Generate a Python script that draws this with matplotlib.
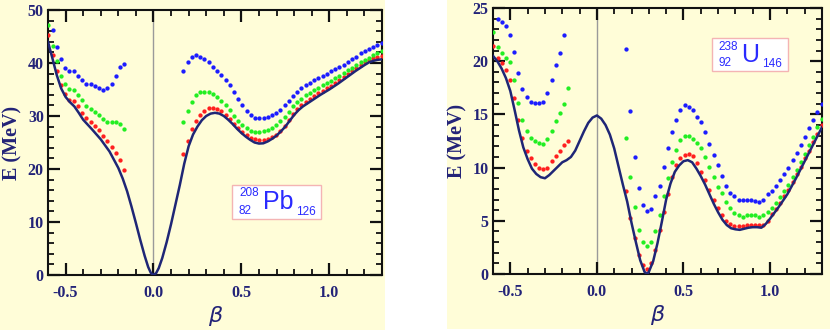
import matplotlib
matplotlib.use("Agg")
import matplotlib.pyplot as plt
from matplotlib.patches import Rectangle
from matplotlib.ticker import MultipleLocator
import numpy as np

plt.rcParams['axes.unicode_minus'] = False

# ---------------- data ----------------
# dot grid (beta)
beta_dots_left = [-0.598, -0.574, -0.550, -0.526, -0.502, -0.478, -0.454, -0.430, -0.406, -0.382,
                  -0.358, -0.334, -0.310, -0.286, -0.262, -0.238, -0.214, -0.190, -0.166]
beta_dots_right = [0.170, 0.194, 0.218, 0.242, 0.266, 0.290, 0.314, 0.338, 0.362, 0.386,
                   0.410, 0.434, 0.458, 0.482, 0.506, 0.530, 0.554, 0.578, 0.602, 0.626,
                   0.650, 0.674, 0.698, 0.722, 0.746, 0.770, 0.794, 0.818, 0.842, 0.866,
                   0.890, 0.914, 0.938, 0.962, 0.986, 1.010, 1.034, 1.058, 1.082, 1.106,
                   1.130, 1.154, 1.178, 1.202, 1.226, 1.250, 1.274, 1.298]

# Pb-208 solid curve
pb_line_beta = [-0.6, -0.575, -0.55, -0.525, -0.5, -0.475, -0.45, -0.425, -0.4, -0.375, -0.35, -0.3,
                -0.25, -0.2, -0.175, -0.15, -0.125, -0.1, -0.075, -0.05, -0.03, -0.015, 0.0, 0.015,
                0.03, 0.05, 0.075, 0.1, 0.125, 0.15, 0.175, 0.2, 0.225, 0.25, 0.275, 0.3, 0.325,
                0.35, 0.375, 0.4, 0.425, 0.45, 0.475, 0.5, 0.525, 0.55, 0.575, 0.6, 0.625, 0.65,
                0.675, 0.7, 0.725, 0.75, 0.775, 0.8, 0.825, 0.85, 0.9, 0.95, 1.0, 1.05, 1.1, 1.15,
                1.2, 1.225, 1.25, 1.275, 1.3]
pb_line_E = [44.0, 40.9, 37.7, 35.2, 33.6, 32.6, 31.8, 30.6, 29.3, 28.4, 27.5, 25.6,
             23.3, 20.2, 18.2, 15.8, 12.9, 9.8, 6.6, 3.6, 1.5, 0.4, 0.0, 0.35,
             1.3, 3.2, 6.2, 9.6, 13.3, 17.0, 21.0, 24.3, 26.5, 28.0, 29.2, 30.0, 30.45,
             30.6, 30.45, 30.0, 29.3, 28.5, 27.6, 26.8, 26.1, 25.5, 25.0, 24.8, 24.85, 25.2,
             25.7, 26.3, 27.1, 28.0, 29.1, 30.2, 31.1, 31.8, 32.9, 34.0, 35.0, 36.1, 37.3, 38.5,
             39.6, 40.1, 40.4, 40.6, 40.7]

pb_red_left = [45.2, 41.5, 38.4, 35.8, 34.2, 33.0, 32.8, 31.9, 30.5, 29.6, 28.8, 28.1, 27.4, 26.3,
               25.3, 24.2, 23.1, 21.7, 19.8]
pb_green_left = [47.2, 43.3, 40.3, 37.6, 36.0, 35.1, 35.0, 34.0, 33.0, 31.9, 31.4, 30.8, 30.2, 29.4,
                 28.9, 28.8, 28.8, 28.4, 27.5]
pb_blue_left = [np.nan, 46.2, 43.1, 40.7, 39.1, 38.5, 38.5, 37.6, 36.7, 36.0, 36.0, 35.7, 35.2, 34.9,
                35.2, 36.0, 37.6, 39.2, 39.9]

pb_red_right = [22.8, 25.3, 27.5, 29.1, 30.2, 31.0, 31.5, 31.6, 31.4, 30.9,
                30.2, 29.4, 28.5, 27.7, 27.0, 26.4, 25.9, 25.6, 25.5, 25.5,
                25.6, 26.0, 26.5, 27.2, 28.1, 29.2, 30.3, 31.4, 32.1, 32.6,
                33.2, 33.7, 34.3, 34.8, 35.2, 35.7, 36.3, 36.8, 37.4, 38.0,
                38.5, 39.1, 39.6, 40.1, 40.6, 40.9, 41.1, 41.3]
pb_green_right = [28.8, 30.9, 32.6, 34.0, 34.5, 34.6, 34.5, 34.1, 33.5, 32.8,
                  32.1, 31.1, 30.0, 29.1, 28.3, 27.7, 27.2, 27.0, 27.0, 27.2,
                  27.4, 27.7, 28.3, 29.1, 29.9, 30.8, 31.8, 32.6, 33.3, 33.9,
                  34.4, 34.9, 35.3, 35.8, 36.2, 36.6, 37.1, 37.6, 38.1, 38.6,
                  39.1, 39.6, 40.1, 40.6, 41.0, 41.5, 41.9, 42.3]
pb_blue_right = [38.5, 40.1, 41.2, 41.5, 41.2, 40.7, 40.1, 39.3, 38.5, 37.7,
                 36.8, 35.8, 34.6, 33.3, 32.1, 30.9, 30.1, 29.6, 29.6, 29.7,
                 29.8, 30.1, 30.6, 31.2, 32.0, 32.9, 33.8, 34.6, 35.2, 35.8,
                 36.3, 36.7, 37.1, 37.5, 37.9, 38.4, 38.8, 39.3, 39.7, 40.2,
                 40.7, 41.2, 41.8, 42.3, 42.7, 43.1, 43.4, 43.7]

# U-238 solid curve
u_line_beta = [-0.6, -0.575, -0.55, -0.525, -0.5, -0.475, -0.45, -0.425, -0.4, -0.375, -0.35, -0.325,
               -0.3, -0.275, -0.25, -0.225, -0.2, -0.175, -0.15, -0.125, -0.1, -0.075, -0.05, -0.025,
               0.0, 0.025, 0.05, 0.075, 0.1, 0.125, 0.15, 0.175, 0.2, 0.225, 0.25, 0.275, 0.29,
               0.3, 0.325, 0.35, 0.375, 0.4, 0.425, 0.45, 0.475, 0.5, 0.525, 0.55, 0.575, 0.6,
               0.625, 0.65, 0.675, 0.7, 0.725, 0.75, 0.775, 0.8, 0.825, 0.85, 0.875, 0.9, 0.925,
               0.95, 0.975, 1.0, 1.05, 1.1, 1.15, 1.2, 1.25, 1.3]
u_line_E = [20.5, 20.0, 19.3, 18.4, 17.2, 15.4, 13.5, 11.9, 10.8, 9.9, 9.4, 9.1,
            9.0, 9.3, 9.7, 10.1, 10.5, 10.7, 11.0, 11.6, 12.5, 13.4, 14.2, 14.7,
            14.9, 14.6, 14.0, 13.1, 11.8, 10.1, 8.4, 6.8, 4.8, 3.0, 1.3, 0.2, 0.0,
            0.2, 1.2, 2.9, 4.9, 7.0, 8.5, 9.6, 10.2, 10.6, 10.7, 10.5, 9.9, 9.2,
            8.4, 7.5, 6.6, 5.8, 5.1, 4.6, 4.3, 4.2, 4.15, 4.25, 4.35, 4.4, 4.4,
            4.35, 4.7, 5.2, 6.3, 7.5, 9.0, 10.6, 12.2, 13.8]

u_red_left = [21.4, 20.3, 19.8, 19.2, 18.2, 16.5, 14.5, 12.8, 11.6, 10.9, 10.3, 10.0, 9.9, 10.0,
              10.6, 11.1, 11.6, 12.1, 12.5]
u_green_left = [22.7, 21.3, 20.8, 20.3, 19.9, 18.2, 16.1, 14.5, 13.4, 12.8, 12.5, 12.3, 12.2, 12.7,
                13.4, 14.4, 15.1, 16.0, 17.5]
u_blue_left = [np.nan, 24.0, 23.7, 23.3, 22.5, 20.9, 18.9, 17.4, 16.6, 16.2, 16.1, 16.1, 16.2, 17.0,
               18.2, 19.6, 20.8, 22.5, np.nan]

u_red_right = [7.8, 5.3, 3.35, 1.8, 0.85, 0.5, 1.0, 2.3, 4.1, 5.8,
               7.5, 9.1, 10.2, 10.9, 11.2, 11.3, 11.1, 10.4, 9.6, 8.8,
               7.9, 7.0, 6.2, 5.5, 5.0, 4.7, 4.5, 4.5, 4.55, 4.6,
               4.65, 4.65, 4.6, 4.6, 5.0, 5.6, 6.1, 6.7, 7.3, 7.9,
               8.6, 9.4, 10.1, 10.9, 11.6, 12.4, 13.2, 14.0]
u_green_right = [12.8, 9.1, 6.3, 4.1, 3.0, 2.6, 3.0, 4.0, 5.5, 7.3,
                 9.0, 10.5, 11.7, 12.6, 13.0, 13.0, 12.7, 12.3, 11.8, 11.0,
                 10.1, 9.1, 8.2, 7.6, 6.8, 6.2, 5.7, 5.5, 5.4, 5.5,
                 5.5, 5.5, 5.4, 5.5, 5.8, 6.2, 6.7, 7.2, 7.8, 8.4,
                 9.1, 9.8, 10.5, 11.3, 12.1, 12.9, 13.8, 14.6]
u_blue_right = [21.1, 15.3, 11.0, 8.1, 6.5, 5.9, 6.1, 7.3, 8.3, 10.1,
                11.8, 13.3, 14.5, 15.4, 15.9, 15.7, 15.4, 14.8, 14.3, 13.3,
                12.2, 11.2, 10.2, 9.2, 8.3, 7.6, 7.3, 7.0, 7.0, 7.0,
                7.0, 6.9, 6.8, 7.0, 7.5, 7.8, 8.3, 8.8, 9.4, 10.0,
                10.7, 11.4, 12.1, 12.9, 13.7, 14.5, 15.2, 16.0]

x_ticks = [-0.5, 0.0, 0.5, 1.0]
x_tick_labels = ["-0.5", "0.0", "0.5", "1.0"]

# ---------------- style ----------------
BG = '#fffdd8'
NAVY = '#232378'
LINE = '#1f2676'
RED = '#ff1f1f'
GREEN = '#22ee22'
BLUE = '#1c1cff'
LABEL_BLUE = '#2a2aff'

W, H = 830, 333
fig = plt.figure(figsize=(W / 100, H / 100), dpi=100)
fig.patch.set_facecolor('white')

def px_rect(x0, y0, x1, y1, **kw):
    return Rectangle((x0 / W, 1 - y1 / H), (x1 - x0) / W, (y1 - y0) / H,
                     transform=fig.transFigure, **kw)

fig.patches.append(px_rect(0, 0, 385, 330, facecolor=BG, edgecolor='none', zorder=-10))
fig.patches.append(px_rect(447, 0, 830, 329, facecolor=BG, edgecolor='none', zorder=-10))

ax1 = fig.add_axes([48 / W, 1 - 275 / H, 334 / W, 265 / H])
ax2 = fig.add_axes([493 / W, 1 - 274 / H, 329 / W, 266 / H])

def style(ax, ymax, ymajor, yminor):
    ax.set_facecolor(BG)
    ax.set_xlim(-0.6, 1.3)
    ax.set_ylim(0, ymax)
    ax.axvline(0, color='#9a9a9a', lw=1.0, zorder=1)
    ax.xaxis.set_major_locator(MultipleLocator(0.5))
    ax.xaxis.set_minor_locator(MultipleLocator(0.1))
    ax.yaxis.set_major_locator(MultipleLocator(ymajor))
    ax.yaxis.set_minor_locator(MultipleLocator(yminor))
    ax.set_xticks(x_ticks)
    ax.set_xticklabels(x_tick_labels)
    ax.tick_params(which='both', direction='in', top=True, right=True, color='#111111')
    ax.tick_params(which='major', length=8.5, width=1.6)
    ax.tick_params(which='minor', length=4.5, width=1.3)
    ax.tick_params(axis='x', which='major', pad=7)
    ax.tick_params(axis='y', which='major', pad=3)
    for lab in ax.get_xticklabels() + ax.get_yticklabels():
        lab.set_fontfamily('Liberation Serif')
        lab.set_fontweight('bold')
        lab.set_fontsize(11.5)
        lab.set_color(NAVY)
    for sp in ax.spines.values():
        sp.set_linewidth(1.5)
        sp.set_color('#111111')
    ax.set_ylabel('E (MeV)', fontfamily='Liberation Serif', fontweight='bold',
                  fontsize=14.5, color=NAVY, labelpad=4)
    ax.set_xlabel('β', fontfamily='DejaVu Sans', style='italic', fontsize=16,
                  color=NAVY, labelpad=4)

style(ax1, 50, 10, 2)
style(ax2, 25, 5, 1)

ms = 3.1
def dots(ax, xs, ys, c):
    ax.plot(xs, ys, 'o', ms=ms, color=c, mec='none', zorder=3, clip_on=True)

for ax, xl, xr, sets in [
    (ax1, beta_dots_left, beta_dots_right,
     [(pb_red_left, pb_red_right, RED), (pb_green_left, pb_green_right, GREEN),
      (pb_blue_left, pb_blue_right, BLUE)]),
    (ax2, beta_dots_left, beta_dots_right,
     [(u_red_left, u_red_right, RED), (u_green_left, u_green_right, GREEN),
      (u_blue_left, u_blue_right, BLUE)]),
]:
    for yl, yr, c in sets:
        dots(ax, xl, yl, c)
        dots(ax, xr, yr, c)

ax1.plot(pb_line_beta, pb_line_E, color=LINE, lw=1.8, zorder=4, solid_joinstyle='round')
ax2.plot(u_line_beta, u_line_E, color=LINE, lw=1.8, zorder=4, solid_joinstyle='round')

# nucleus labels
def nucleus(box, A, Z, sym, N, posA, posZ, posS, posN):
    fig.patches.append(px_rect(*box, facecolor='white', edgecolor='#f4b4b4', lw=1.0, zorder=5))
    kw = dict(color=LABEL_BLUE, fontfamily='Liberation Sans', ha='center', va='center', zorder=6)
    fig.text(posA[0] / W, 1 - posA[1] / H, A, fontsize=8.5, **kw)
    fig.text(posZ[0] / W, 1 - posZ[1] / H, Z, fontsize=8.5, **kw)
    fig.text(posS[0] / W, 1 - posS[1] / H, sym, fontsize=18, **kw)
    fig.text(posN[0] / W, 1 - posN[1] / H, N, fontsize=8.5, **kw)

nucleus((232, 185, 321, 219), '208', '82', 'Pb', '126',
        (249, 193), (245, 211), (278, 202), (306, 212))
nucleus((712, 38, 788, 71), '238', '92', 'U', '146',
        (728, 47), (725, 63), (750, 55), (772, 64))

fig.savefig('out.png', dpi=100, facecolor=fig.get_facecolor())
